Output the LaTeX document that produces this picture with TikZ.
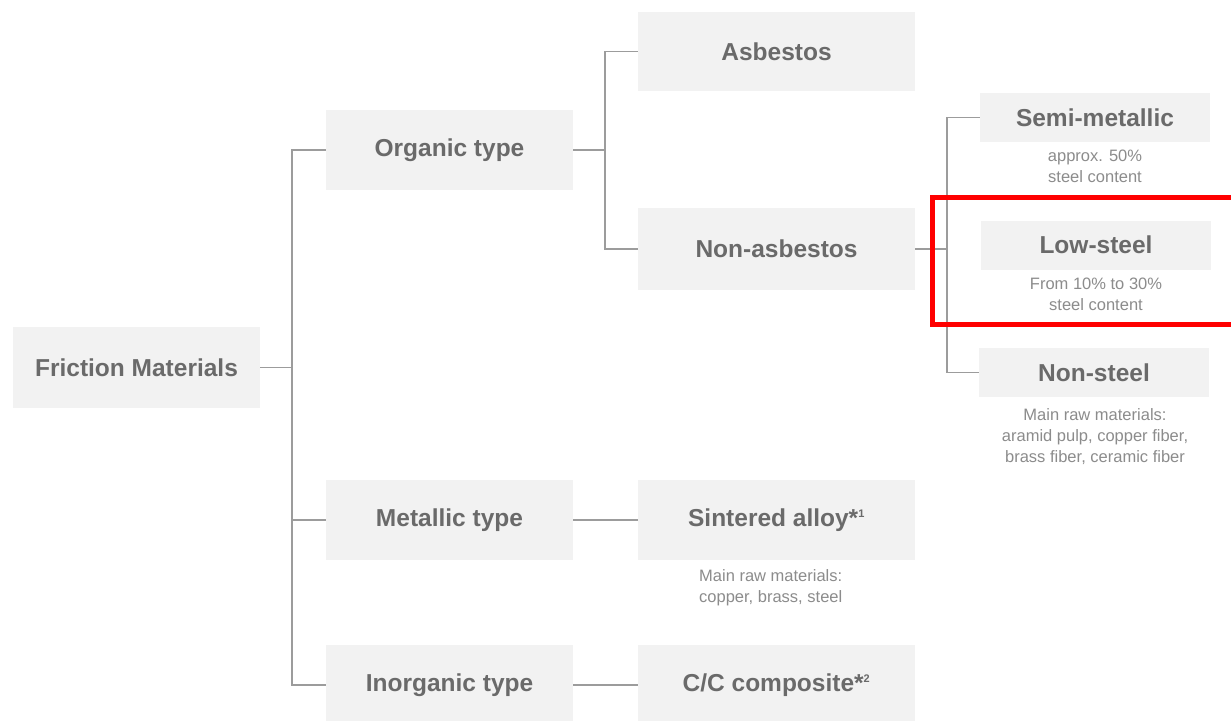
\documentclass[tikz,border=0pt]{standalone}
\usepackage{fontspec}
\setmainfont{Liberation Sans}
\definecolor{boxgray}{HTML}{F2F2F2}
\definecolor{titlegray}{HTML}{6A6A6A}
\definecolor{subgray}{HTML}{8C8C8C}
\definecolor{linegray}{HTML}{9C9C9C}
\definecolor{hlred}{HTML}{FF0000}
\begin{document}
\begin{tikzpicture}[x=1pt,y=-1pt,
  box/.style={fill=boxgray, draw=none, inner sep=0pt, text=titlegray,
    font=\bfseries\fontsize{24.5}{28}\selectfont},
  midbox/.style={box, minimum width=247pt, minimum height=80pt},
  widebox/.style={box, minimum width=277pt, minimum height=80pt},
  smallbox/.style={box, minimum width=230pt, minimum height=49pt},
  sub/.style={text=subgray, inner sep=0pt, font=\fontsize{16.5}{21}\selectfont},
  conn/.style={draw=linegray, line width=1.6pt},
  highlight/.style={draw=hlred, line width=5pt, fill=none}]
\useasboundingbox (0,0) rectangle (1231,720);
\fill[white] (0,0) rectangle (1231,720);

% nodes
\node[box, minimum width=247pt, minimum height=81pt] (fm) at (136.5,367.5) {Friction Materials};
\node[midbox] (org) at (449.5,150) {Organic type};
\node[midbox] (met) at (449.5,520) {Metallic type};
\node[midbox] (inorg) at (449.5,685) {Inorganic type};
\node[widebox, minimum height=79pt] (asb) at (776.5,51.5) {Asbestos};
\node[widebox, minimum height=82pt] (nonasb) at (776.5,249) {Non-asbestos};
\node[widebox] (sint) at (776.5,520) {Sintered alloy*\textsuperscript{\fontsize{11}{11}\selectfont 1}};
\node[widebox] (cc) at (776.5,685) {C/C composite*\textsuperscript{\fontsize{11}{11}\selectfont 2}};
\node[smallbox] (semi) at (1095,117.5) {Semi-metallic};
\node[smallbox] (low) at (1096,245) {Low-steel};
\node[smallbox] (nonst) at (1094,372.5) {Non-steel};

% sub texts
\node[sub, align=center] (semisub) at (1095,166) {approx. 50\%\\steel content};
\node[sub, align=center] (lowsub) at (1096,294) {From 10\% to 30\%\\steel content};
\node[sub, align=center] (nonstsub) at (1095,437) {Main raw materials:\\aramid pulp, copper fiber,\\brass fiber, ceramic fiber};
\node[sub, align=left, anchor=west] (sintsub) at (699,588) {Main raw materials:\\copper, brass, steel};

% branch coordinates
\coordinate (trunk) at (292,0);
\coordinate (b1) at (605,0);
\coordinate (b2) at (947,0);

% connectors
\draw[conn] (fm.east) -- (fm.east -| trunk);
\draw[conn] (org.west) -| (trunk |- inorg.west) -- (inorg.west);
\draw[conn] (met.west) -- (met.west -| trunk);
\draw[conn] (org.east) -- (org.east -| b1);
\draw[conn] (asb.west) -| (b1 |- nonasb.west) -- (nonasb.west);
\draw[conn] (nonasb.east) -- (nonasb.east -| b2);
\draw[conn] (semi.west) -| (b2 |- nonst.west) -- (nonst.west);
\draw[conn] (met.east) -- (sint.west);
\draw[conn] (inorg.east) -- (cc.west);

% highlight
\draw[highlight] (932,197) rectangle (1245,324);
\end{tikzpicture}
\end{document}
